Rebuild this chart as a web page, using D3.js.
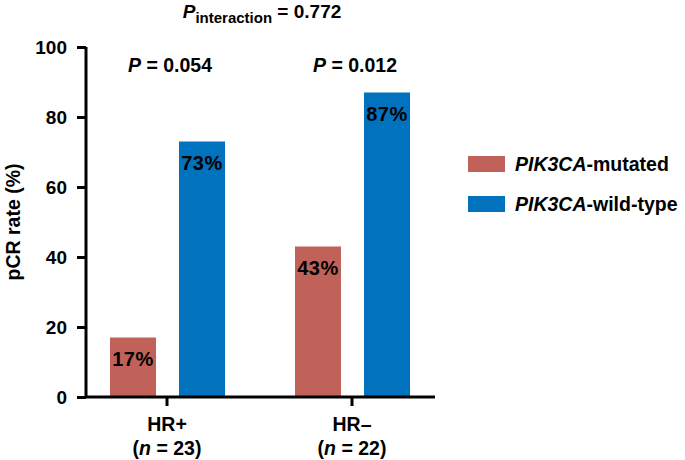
<!DOCTYPE html>
<html><head><meta charset="utf-8">
<script src="https://cdn.jsdelivr.net/npm/d3@7"></script>
<style>body{margin:0;background:#fff}svg{display:block}text{font-family:"Liberation Sans",Arial,Helvetica,sans-serif;font-weight:bold;fill:#000}</style>
</head><body>
<svg id="c" width="685" height="460"></svg>
<script>
const categories = ["HR+", "HR\u2013"];
const categoryN = [23, 22];
const series = ["PIK3CA-mutated", "PIK3CA-wild-type"];
const mutatedValues = [17, 43];
const wildTypeValues = [73, 87];
const pValues = ["0.054", "0.012"];
const pInteraction = "0.772";
const yTicks = [0, 20, 40, 60, 80, 100];
const colors = ["#C0625A", "#0072BE"];

const svg = d3.select("#c");
const y = d3.scaleLinear().domain([0, 100]).range([397, 47]);
const x = d3.scaleBand().domain(categories).range([74.5, 444.5]).paddingInner(0).paddingOuter(0);
const xs = d3.scaleBand().domain(series).range([-57, 58]).paddingInner(1/3).paddingOuter(0);

// bars
const data = [];
categories.forEach((c, i) => {
  data.push({cat: c, s: series[0], v: mutatedValues[i], col: colors[0]});
  data.push({cat: c, s: series[1], v: wildTypeValues[i], col: colors[1]});
});
const cx = c => x(c) + x.bandwidth() / 2;
svg.selectAll("rect.bar").data(data).join("rect").attr("class", "bar")
  .attr("x", d => cx(d.cat) + xs(d.s)).attr("width", xs.bandwidth())
  .attr("y", d => y(d.v)).attr("height", d => y(0) - y(d.v)).attr("fill", d => d.col);
svg.selectAll("text.val").data(data).join("text").attr("class", "val")
  .attr("x", d => cx(d.cat) + xs(d.s) + xs.bandwidth() / 2).attr("y", d => y(d.v) + 28)
  .attr("text-anchor", "middle").style("font-size", "20px").style("letter-spacing", "0.5px").text(d => d.v + "%");

// y axis
const ya = svg.append("g").attr("transform", "translate(86,0)")
  .call(d3.axisLeft(y).tickValues(yTicks).tickSize(9).tickSizeOuter(0).tickPadding(10));
ya.select(".domain").attr("d", "M0," + y(100) + "V" + y(0)).attr("stroke-width", 3);
ya.selectAll(".tick line").attr("stroke-width", 3);
ya.selectAll(".tick text").style("font-size", "19px").style("font-family", '"Liberation Sans",Arial,sans-serif').style("font-weight", "bold").attr("fill", "#000");

// x axis
const xa = svg.append("g").attr("transform", "translate(0," + y(0) + ")")
  .call(d3.axisBottom(x).tickSize(9).tickSizeOuter(0).tickFormat(""));
xa.select(".domain").attr("d", "M86,0H435").attr("stroke-width", 3);
xa.selectAll(".tick line").attr("stroke-width", 3);

categories.forEach((c, i) => {
  svg.append("text").attr("x", cx(c)).attr("y", 431).attr("text-anchor", "middle").style("font-size", "19.5px").text(c);
  const t = svg.append("text").attr("x", cx(c)).attr("y", 455).attr("text-anchor", "middle").style("font-size", "19.5px");
  t.append("tspan").text("(");
  t.append("tspan").style("font-style", "italic").text("n");
  t.append("tspan").text(" = " + categoryN[i] + ")");
  const p = svg.append("text").attr("x", cx(c) + 3).attr("y", 72).attr("text-anchor", "middle").style("font-size", "19.5px");
  p.append("tspan").style("font-style", "italic").text("P");
  p.append("tspan").text(" = " + pValues[i]);
});

// title
const tt = svg.append("text").attr("x", 262).attr("y", 18).attr("text-anchor", "middle").style("font-size", "19px");
tt.append("tspan").style("font-style", "italic").text("P");
tt.append("tspan").attr("dy", 5).style("font-size", "15px").text("interaction");
tt.append("tspan").attr("dy", -5).text(" = " + pInteraction);

// y label
svg.append("text").attr("transform", "translate(20,222) rotate(-90)").attr("text-anchor", "middle").style("font-size", "19.5px").text("pCR rate (%)");

// legend
series.forEach((s, i) => {
  const yy = 156 + i * 40;
  svg.append("rect").attr("x", 468).attr("y", yy).attr("width", 37).attr("height", 16).attr("fill", colors[i]);
  const t = svg.append("text").attr("x", 515).attr("y", yy + 15).style("font-size", "19.5px");
  t.append("tspan").style("font-style", "italic").text("PIK3CA");
  t.append("tspan").text(s.replace("PIK3CA", ""));
});
</script>
</body></html>
